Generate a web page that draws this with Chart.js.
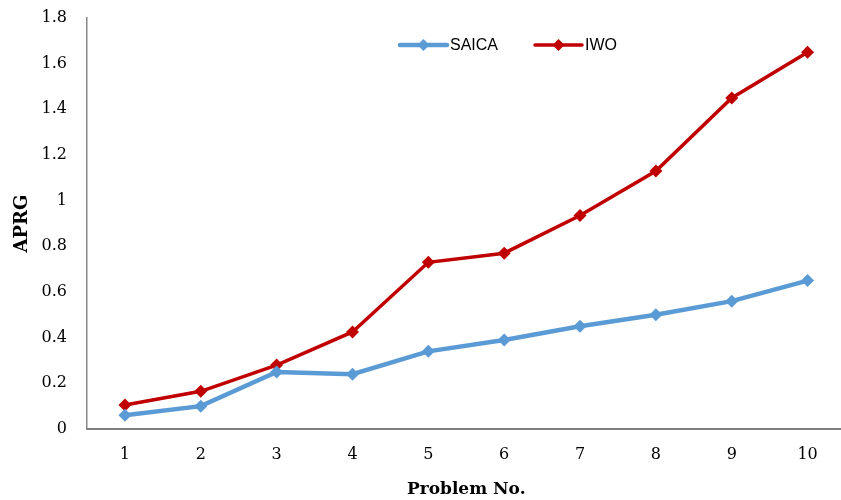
<!DOCTYPE html>
<html>
<head>
<meta charset="utf-8">
<script src="https://cdn.jsdelivr.net/npm/chart.js@4"></script>
<style>
  html, body { margin: 0; padding: 0; background: #fff; overflow: hidden; }
  #wrap { width: 852px; height: 500px; }
</style>
</head>
<body>
<div id="wrap"><canvas id="c" width="852" height="500" style="width:852px;height:500px"></canvas></div>
<script>
// Problem numbers along the x axis
const problems = ['1', '2', '3', '4', '5', '6', '7', '8', '9', '10'];
// APRG per problem for each algorithm
const saica = [0.06, 0.10, 0.25, 0.24, 0.34, 0.39, 0.45, 0.50, 0.56, 0.65];
const iwo   = [0.105, 0.165, 0.28, 0.425, 0.73, 0.77, 0.935, 1.13, 1.45, 1.65];
// y axis range and step
const yMin = 0, yMax = 1.8, yStep = 0.2;

const serif = '"DejaVu Serif", "Liberation Serif", serif';
const sans = '"Liberation Sans", "Open Sans", sans-serif';

// Legend drawn inside the plot: a short line with a diamond marker, then the label
const lineLegend = {
  id: 'lineLegend',
  afterDraw(chart) {
    const ctx = chart.ctx;
    const items = chart.data.datasets;
    const starts = [400, 535];
    const y = 45;
    ctx.save();
    ctx.font = '16px ' + sans;
    ctx.textBaseline = 'middle';
    items.forEach((ds, i) => {
      const x0 = starts[i];
      ctx.strokeStyle = ds.borderColor;
      ctx.lineWidth = ds.borderWidth;
      ctx.lineCap = 'round';
      ctx.beginPath();
      ctx.moveTo(x0, y);
      ctx.lineTo(x0 + 47, y);
      ctx.stroke();
      const cx = x0 + 23.5, r = 6;
      ctx.fillStyle = ds.borderColor;
      ctx.beginPath();
      ctx.moveTo(cx, y - r);
      ctx.lineTo(cx + r, y);
      ctx.lineTo(cx, y + r);
      ctx.lineTo(cx - r, y);
      ctx.closePath();
      ctx.fill();
      ctx.fillStyle = '#000';
      ctx.textAlign = 'left';
      ctx.fillText(ds.label, x0 + 50, y + 1);
    });
    ctx.restore();
  }
};

new Chart(document.getElementById('c'), {
  type: 'line',
  data: {
    labels: problems,
    datasets: [
      {
        label: 'SAICA',
        data: saica,
        borderColor: '#5B9BD5',
        backgroundColor: '#5B9BD5',
        borderWidth: 4.5,
        pointStyle: 'rectRot',
        pointRadius: 6.5,
        pointBorderWidth: 0,
        tension: 0
      },
      {
        label: 'IWO',
        data: iwo,
        borderColor: '#C00000',
        backgroundColor: '#C00000',
        borderWidth: 3.5,
        pointStyle: 'rectRot',
        pointRadius: 6.5,
        pointBorderWidth: 0,
        tension: 0
      }
    ]
  },
  options: {
    responsive: false,
    animation: false,
    layout: { padding: { left: 0, right: 0, top: 18, bottom: 0 } },
    plugins: {
      legend: { display: false },
      tooltip: { enabled: false }
    },
    scales: {
      x: {
        offset: true,
        grid: { display: false, drawTicks: false },
        border: { display: true, color: '#7f7f7f', width: 2 },
        ticks: { color: '#000', font: { family: serif, size: 16 }, padding: 16 },
        title: {
          display: true,
          text: 'Problem No.',
          color: '#000',
          font: { family: serif, size: 17, weight: 'bold' },
          padding: { top: 8, bottom: 0 }
        },
        afterFit(scale) { scale.height = 71; }
      },
      y: {
        min: yMin,
        max: yMax,
        grid: { display: false, drawTicks: false },
        border: { display: true, color: '#868686', width: 1.5 },
        ticks: {
          stepSize: yStep,
          color: '#000',
          font: { family: serif, size: 16 },
          padding: 20,
          callback: v => String(Math.round(v * 10) / 10)
        },
        title: {
          display: true,
          text: 'APRG',
          color: '#000',
          font: { family: serif, size: 18, weight: 'bold' },
          padding: { top: 12, bottom: 0 }
        },
        afterFit(scale) {
          scale.width = 87;
          scale.paddingTop = 0;
          scale.paddingBottom = 0;
        }
      }
    }
  },
  plugins: [lineLegend]
});
</script>
</body>
</html>
